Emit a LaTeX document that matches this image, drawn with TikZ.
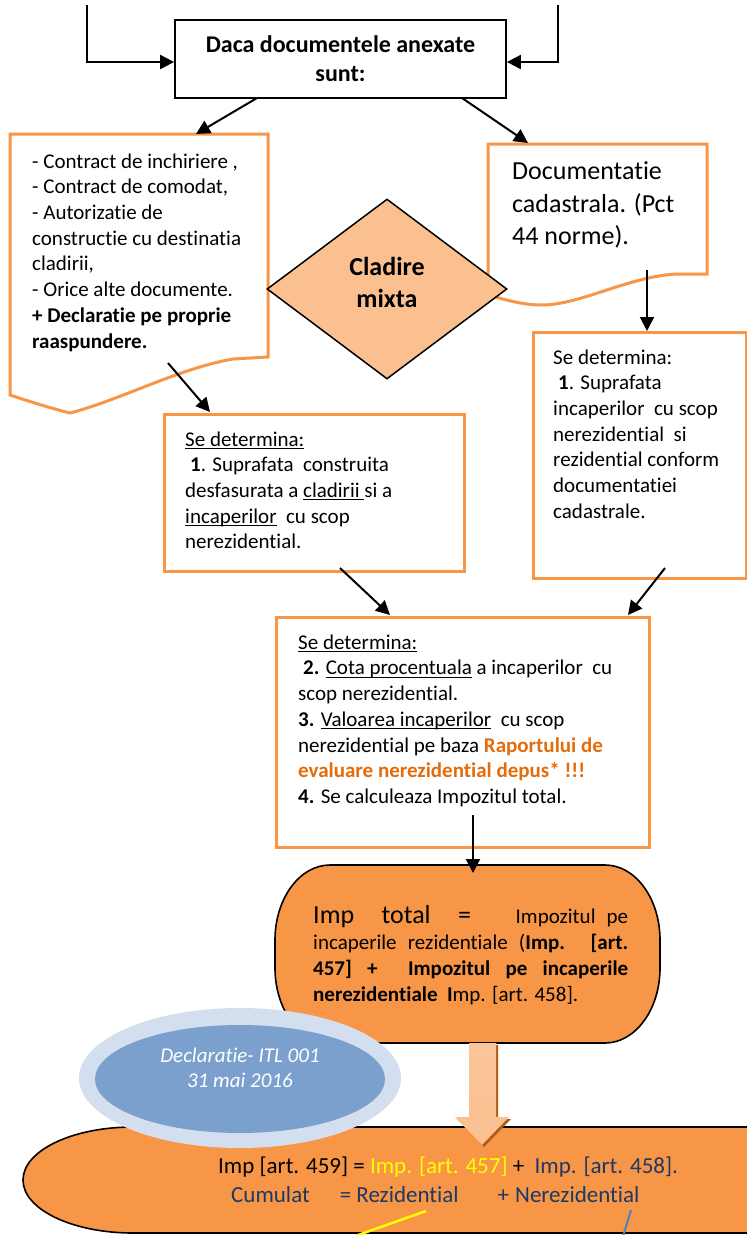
\documentclass[tikz,border=0pt]{standalone}
\usepackage{fontspec}
\setmainfont{Carlito}[Ligatures=NoCommon]
\usetikzlibrary{arrows.meta,shapes.geometric}
\definecolor{oline}{HTML}{F79646}
\definecolor{ofill}{HTML}{F79646}
\definecolor{otext}{HTML}{E46C0A}
\definecolor{dfill}{HTML}{FAC090}
\definecolor{bring}{HTML}{D3DFEE}
\definecolor{binner}{HTML}{7BA0CD}
\definecolor{dblue}{HTML}{1F3864}
\definecolor{lblue}{HTML}{4F81BD}
\definecolor{yel}{HTML}{FFFF00}
\definecolor{ashadow}{HTML}{B05A14}
\newcommand\ulx[1]{\setbox0\hbox{#1}\rlap{\rule[-2.8pt]{\wd0}{1.2pt}}\box0\relax}
\tikzset{
  arr/.style={line width=2pt,-{Triangle[length=14pt,width=14pt]}},
  obox/.style={rectangle,draw=oline,line width=3pt,fill=white,inner sep=0pt,anchor=north west},
  bbox/.style={rectangle,draw=black,line width=1.8pt,fill=white,inner sep=0pt},
  odoc/.style={draw=oline,line width=3pt,fill=white},
  txt/.style={inner sep=0pt,anchor=north west,align=left,font=\fontsize{21}{25.7}\selectfont},
  blackshape/.style={draw=black,line width=1.6pt,fill=ofill},
}
\begin{document}
\begin{tikzpicture}[x=1pt,y=-1pt]
\useasboundingbox (0,0) rectangle (747,1235);
\fill[white] (0,0) rectangle (747,1235);
\clip (0,0) rectangle (747,1235);

% top box
\node[bbox,minimum width=331pt,minimum height=78pt,align=center,
      font=\bfseries\fontsize{24}{29}\selectfont] (top) at (340.5,59) {Daca documentele anexate\\sunt:};
\coordinate (tl0) at (87,5);
\coordinate (tl1) at (87,62);
\coordinate (tr0) at (558,5);
\coordinate (tr1) at (558,62);
\draw[arr] (tl0) -- (tl1) -- (tl1 -| top.west);
\draw[arr] (tr0) -- (tr1) -- (tr1 -| top.east);

% left document
\draw[odoc] (10,134) -- (268,134) -- (268,357) -- (233,359)
  .. controls (180,368) and (120,400) .. (70,413)
  .. controls (50,408) and (28,401) .. (10,395) -- cycle;
\node[txt] (ldT) at (32,150) {\strut- Contract de inchiriere ,\\- Contract de comodat,\\- Autorizatie de\\constructie cu destinatia\\cladirii,\\- Orice alte documente.\\\textbf{+ Declaratie pe proprie}\\\textbf{raaspundere.}};

% right document
\draw[odoc] (488,144) -- (707,144) -- (707,274) -- (677,274)
  .. controls (630,276) and (580,305) .. (542,305)
  .. controls (520,305) and (500,298) .. (488,295) -- cycle;
\node[txt,font=\fontsize{26}{32.5}\selectfont] (rdT) at (512,157) {\strut Documentatie\\cadastrala. (Pct\\44 norme).};

% diamond
\node[diamond,draw=black,line width=1.5pt,fill=dfill,minimum width=240pt,minimum height=180pt,inner sep=0pt] (dia) at (387,289) {};
\node[txt,anchor=north,align=center,font=\bfseries\fontsize{26}{32}\selectfont] (diaT) at (387,252.6) {\strut Cladire\\mixta};

% right box
\node[obox,minimum width=213pt,minimum height=246pt] (rb) at (532,331) {};
\node[txt] (rbT) at (553,346) {\strut Se determina:\\\hspace*{5pt}\textbf{1}. Suprafata\\incaperilor\ \ cu scop\\nerezidential\ \ si\\rezidential conform\\documentatiei\\cadastrale.};

% middle box
\node[obox,minimum width=300pt,minimum height=157pt] (mb) at (163,413) {};
\node[txt] (mbT) at (185,428) {\strut\ulx{Se determina:}\\\hspace*{5pt}\textbf{1}. Suprafata\ \ construita\\desfasurata a \ulx{cladirii\ }si a\\\ulx{incaperilor}\ \ cu scop\\nerezidential.};

% bottom box
\node[obox,minimum width=373pt,minimum height=230pt] (bb) at (275,616) {};
\node[txt] (bbT) at (298,631) {\strut\ulx{Se determina:}\\\hspace*{5pt}\textbf{2.} \ulx{Cota procentuala} a incaperilor\ \ cu\\scop nerezidential.\\\textbf{3.} \ulx{Valoarea incaperilor}\ \ cu scop\\nerezidential pe baza \textcolor{otext}{\textbf{Raportului de}}\\\textcolor{otext}{\textbf{evaluare nerezidential depus* !!!}}\\\textbf{4.} Se calculeaza Impozitul total.};

% connectors
\coordinate (a1s) at (257,98);  \coordinate (a1e) at (196,134);
\coordinate (a2s) at (462,98);  \coordinate (a2e) at (528,143);
\coordinate (a3s) at (647,270);
\coordinate (a4s) at (168,363); \coordinate (a4e) at (210,412);
\coordinate (a5s) at (340,568); \coordinate (a5e) at (390,615);
\coordinate (a6s) at (665,568); \coordinate (a6e) at (628,615);
\coordinate (a7s) at (473,815); \coordinate (a7e) at (473,873);
\draw[arr] (a1s) -- (a1e);
\draw[arr] (a2s) -- (a2e);
\draw[arr] (a3s) -- (a3s |- rb.north);
\draw[arr] (a4s) -- (a4e);
\draw[arr] (a5s) -- (a5e);
\draw[arr] (a6s) -- (a6e);

% stadium
\draw[blackshape] (330,865) -- (605,865) .. controls (635.4,865) and (660,898.6) .. (660,940)
  -- (660,968) .. controls (660,1009.4) and (635.4,1043) .. (605,1043)
  -- (330,1043) .. controls (299.6,1043) and (275,1009.4) .. (275,968)
  -- (275,940) .. controls (275,898.6) and (299.6,865) .. (330,865) -- cycle;
\draw[arr] (a7s) -- (a7e);
\node[inner sep=0pt,anchor=north west,text width=315pt,align=justify,font=\fontsize{21}{26}\selectfont] (stT) at (313,902)
 {\rule{0pt}{21pt}{\fontsize{26}{26}\selectfont Imp\ \ total\ \ =}\ \ \ \ Impozitul pe\linebreak incaperile rezidentiale (\textbf{Imp. [art.}\linebreak\textbf{457] +\ \ Impozitul pe incaperile}\linebreak\textbf{nerezidentiale}\ \ \textbf{I}mp. [art. 458].};

% bottom big shape
\draw[blackshape] (133,1127) -- (780,1127) -- (780,1233) -- (133,1233)
  .. controls (72.2,1233) and (23,1209.3) .. (23,1180)
  .. controls (23,1150.7) and (72.2,1127) .. (133,1127) -- cycle;

% blue ellipse
\node[ellipse,fill=bring,minimum width=322pt,minimum height=140pt,inner sep=0pt] (bo) at (240,1078) {};
\node[ellipse,fill=binner,minimum width=290pt,minimum height=108pt,inner sep=0pt] (bi) at (240,1079) {};
\node[txt,anchor=north,align=center,text=white,font=\itshape\fontsize{21}{25}\selectfont] (biT) at (240,1045) {\strut Declaratie- ITL 001\\31 mai 2016};

% block arrow
\fill[ashadow] (471,1045) -- (498,1045) -- (498,1119) -- (511,1119) -- (484,1147) -- (457,1119) -- (471,1119) -- cycle;
\shade[top color=oline!55!white,middle color=oline,bottom color=oline!60!white]
  (469,1043) -- (496,1043) -- (496,1117) -- (509,1117) -- (482,1145) -- (455,1117) -- (469,1117) -- cycle;

% bottom texts
\node[anchor=base west,inner sep=0pt,font=\fontsize{23}{28}\selectfont] (b1) at (218,1173)
  {Imp [art. 459] = \textcolor{yel}{Imp. [art. 457]} +\ \ \textcolor{dblue}{Imp. [art. 458].}};
\node[anchor=base west,inner sep=0pt,text=dblue,font=\fontsize{23}{28}\selectfont] (b2) at (231,1202)
  {Cumulat\hspace{30pt}= Rezidential\hspace{39pt}+\hspace{6pt}Nerezidential};

% callout lines
\coordinate (yl0) at (426,1211); \coordinate (yl1) at (344,1240);
\coordinate (bl0) at (631,1210); \coordinate (bl1) at (622,1240);
\draw[yel,line width=2.5pt] (yl0) -- (yl1);
\draw[lblue,line width=2pt] (bl0) -- (bl1);
\end{tikzpicture}
\end{document}
